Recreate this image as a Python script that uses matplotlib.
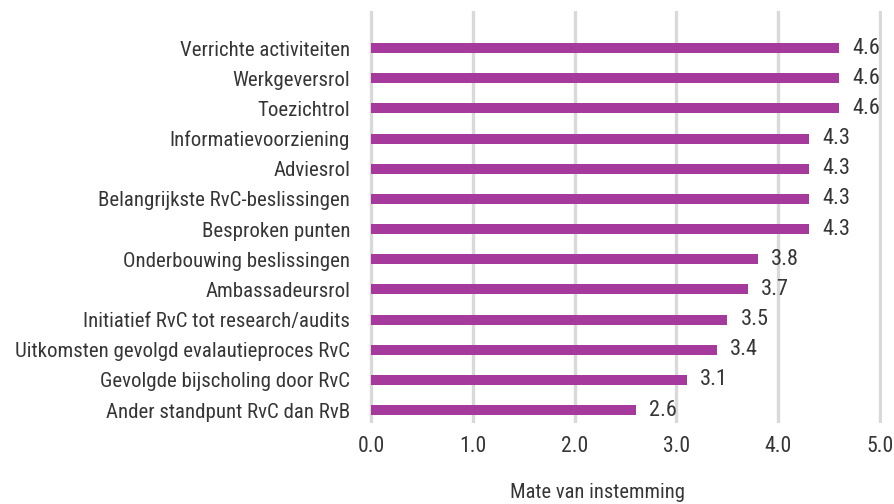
import matplotlib
matplotlib.use("Agg")
import matplotlib.pyplot as plt
from matplotlib import font_manager

categories = [
    "Verrichte activiteiten",
    "Werkgeversrol",
    "Toezichtrol",
    "Informatievoorziening",
    "Adviesrol",
    "Belangrijkste RvC-beslissingen",
    "Besproken punten",
    "Onderbouwing beslissingen",
    "Ambassadeursrol",
    "Initiatief RvC tot research/audits",
    "Uitkomsten gevolgd evalautieproces RvC",
    "Gevolgde bijscholing door RvC",
    "Ander standpunt RvC dan RvB",
]
values = [4.6, 4.6, 4.6, 4.3, 4.3, 4.3, 4.3, 3.8, 3.7, 3.5, 3.4, 3.1, 2.6]
xticks = [0.0, 1.0, 2.0, 3.0, 4.0, 5.0]
xlabel = "Mate van instemming"

# pick a narrow sans face if one is present
available = {f.name for f in font_manager.fontManager.ttflist}
family = "Liberation Sans"
stretch = "normal"
for cand in ["Roboto Condensed", "Liberation Sans Narrow", "Open Sans Condensed",
             "Noto Sans Condensed", "Arial Narrow"]:
    if cand in available:
        family = cand
        break
else:
    if any(f.name == "DejaVu Sans" and f.stretch == "condensed"
           for f in font_manager.fontManager.ttflist):
        family, stretch = "DejaVu Sans", "condensed"

plt.rcParams["font.family"] = [family, "DejaVu Sans"]
plt.rcParams["font.stretch"] = stretch
TEXT = "#363636"
BAR = "#a5399c"
GRID = "#d9d9d9"

fig = plt.figure(figsize=(8.95, 5.04), dpi=100)
W, H = 895, 504
left_px, right_px, top_px, bot_px = 369, 882, 11, 423
ax = fig.add_axes([left_px / W, 1 - bot_px / H, (right_px - left_px) / W, (bot_px - top_px) / H])

renderer = fig.canvas.get_renderer()


def fit_size(text, width_px, cap=30):
    t = fig.text(0, 0, text, fontsize=10)
    w = t.get_window_extent(renderer).width
    t.remove()
    return min(cap, 10 * width_px / w)


cat_size = fit_size("Uitkomsten gevolgd evalautieproces RvC", 347, cap=15)
tick_size = fit_size("3.0", 27, cap=16)
val_size = fit_size("4.6", 28, cap=16)
lab_size = fit_size(xlabel, 173, cap=15)

y = list(range(len(categories)))
ax.barh(y, values, height=0.33, color=BAR, zorder=3)

for yi, v in zip(y, values):
    ax.annotate(f"{v:.1f}", (v, yi), xytext=(9.5, 0), textcoords="offset points",
                va="center", ha="left", fontsize=val_size, color=TEXT)

ax.set_xlim(-0.02, 5.02)
ax.set_ylim(12.43, -1.23)
ax.set_xticks(xticks)
ax.set_xticklabels([f"{t:.1f}" for t in xticks])
ax.set_yticks(y)
ax.set_yticklabels(categories)
ax.tick_params(axis="y", length=0, pad=13.5, labelsize=cat_size, colors=TEXT)
ax.tick_params(axis="x", length=0, pad=9, labelsize=tick_size, colors=TEXT)

ax.grid(axis="x", color=GRID, linewidth=2.4, zorder=0)
ax.grid(axis="y", visible=False)
for s in ax.spines.values():
    s.set_visible(False)

fig.text(598 / W, 1 - 493 / H, xlabel, ha="center", va="center", fontsize=lab_size, color=TEXT)

fig.savefig("out.png", dpi=100)
